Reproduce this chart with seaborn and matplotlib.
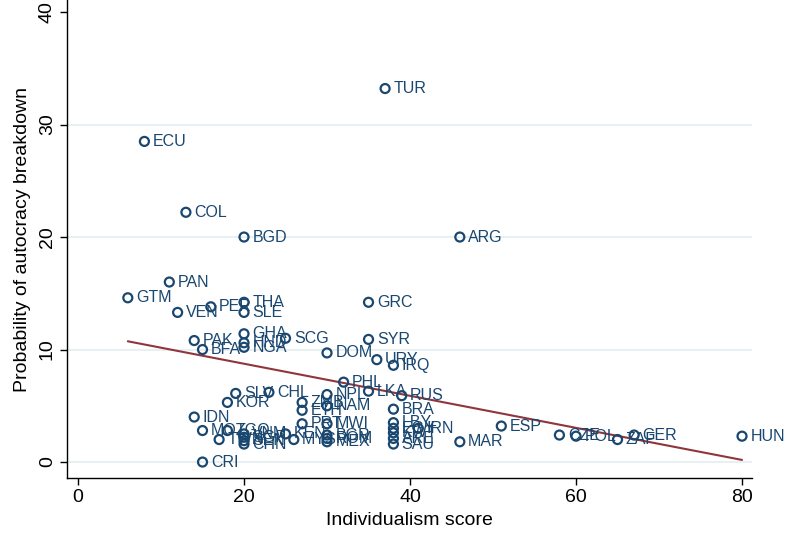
import numpy as np
import pandas as pd
import matplotlib
matplotlib.use("Agg")
import matplotlib.pyplot as plt
import seaborn as sns

# --- Data ---
countries = [
    "TUR", "ECU", "COL", "BGD", "ARG", "PAN", "GTM", "THA", "GRC", "PER",
    "VEN", "SLE", "GHA", "SCG", "SYR", "PAK", "HND", "NGA", "BFA", "DOM",
    "URY", "IRQ", "PHL", "LKA", "RUS", "SLV", "CHL", "NPL", "KOR", "ZMB",
    "NAM", "ETH", "BRA", "IDN", "PRT", "MWI", "LBY", "IRN", "ESP", "EGY",
    "KWT", "ARE", "SAU", "MAR", "MOZ", "TGO", "TWN", "VNM", "SGP", "SEN",
    "CHN", "KEN", "MYS", "BGR", "ROM", "MEX", "CZE", "POL", "ZAF", "GER",
    "HUN", "CRI",
]
individualism = [
    37, 8, 13, 20, 46, 11, 6, 20, 35, 16,
    12, 20, 20, 25, 35, 14, 20, 20, 15, 30,
    36, 38, 32, 35, 39, 19, 23, 30, 18, 27,
    30, 27, 38, 14, 27, 30, 38, 41, 51, 38,
    38, 38, 38, 46, 15, 18, 17, 20, 20, 20,
    20, 25, 26, 30, 30, 30, 58, 60, 65, 67,
    80, 15,
]
breakdown_prob = [
    33.2, 28.5, 22.2, 20.0, 20.0, 16.0, 14.6, 14.2, 14.2, 13.8,
    13.3, 13.3, 11.4, 11.0, 10.9, 10.8, 10.6, 10.2, 10.0, 9.7,
    9.1, 8.6, 7.1, 6.3, 5.9, 6.1, 6.2, 6.0, 5.3, 5.3,
    5.0, 4.6, 4.7, 4.0, 3.4, 3.4, 3.5, 3.0, 3.2, 3.0,
    2.6, 2.1, 1.6, 1.8, 2.8, 2.8, 2.0, 2.5, 2.2, 1.9,
    1.6, 2.5, 2.0, 2.4, 2.1, 1.8, 2.4, 2.3, 2.0, 2.4,
    2.3, 0.0,
]
x_ticks = [0, 20, 40, 60, 80]
y_ticks = [0, 10, 20, 30, 40]

NAVY = "#1a476f"
MAROON = "#90353b"
GRID = "#e3edf1"

df = pd.DataFrame({"country": countries, "indiv": individualism, "prob": breakdown_prob})

sns.set_style("white")
plt.rcParams["font.family"] = ["Liberation Sans", "DejaVu Sans"]
plt.rcParams["text.color"] = "black"
plt.rcParams["axes.labelcolor"] = "black"
plt.rcParams["xtick.color"] = "black"
plt.rcParams["ytick.color"] = "black"

fig = plt.figure(figsize=(7.87, 5.38), dpi=100)
ax = fig.add_axes([0.0851, 0.1115, 0.8704, 0.8885])

# horizontal grid lines (Stata-like)
for yv in y_ticks[:-1]:
    ax.axhline(yv, color=GRID, lw=1.2, zorder=0)

sns.scatterplot(data=df, x="indiv", y="prob", ax=ax, marker="o", s=42,
                color=NAVY, linewidth=1.6, zorder=3, legend=False)
ax.collections[-1].set_facecolor("none")
ax.collections[-1].set_edgecolor(NAVY)

for _, row in df.iterrows():
    ax.annotate(row["country"], (row["indiv"], row["prob"]), xytext=(6, 0),
                textcoords="offset points", ha="left", va="center",
                fontsize=11.5, color=NAVY, zorder=4)

# linear fit
sns.regplot(data=df, x="indiv", y="prob", ax=ax, scatter=False, ci=None,
            color=MAROON, line_kws={"lw": 1.5, "zorder": 2})

ax.set_xlim(-1.33, 81.2)
ax.set_ylim(-1.42, 41.07)
ax.set_xticks(x_ticks)
ax.set_yticks(y_ticks)
ax.tick_params(axis="both", direction="out", length=5, width=1, color="black",
               labelcolor="black", labelsize=14, pad=3, bottom=True, left=True)
plt.setp(ax.get_yticklabels(), rotation=90, va="center")

ax.set_xlabel("Individualism score", fontsize=14, labelpad=4, color="black")
ax.set_ylabel("Probability of autocracy breakdown", fontsize=14, labelpad=6, color="black")

for side in ["top", "right"]:
    ax.spines[side].set_visible(False)
for side in ["left", "bottom"]:
    ax.spines[side].set_color("black")
    ax.spines[side].set_linewidth(1)

fig.savefig("out.png", dpi=100)
